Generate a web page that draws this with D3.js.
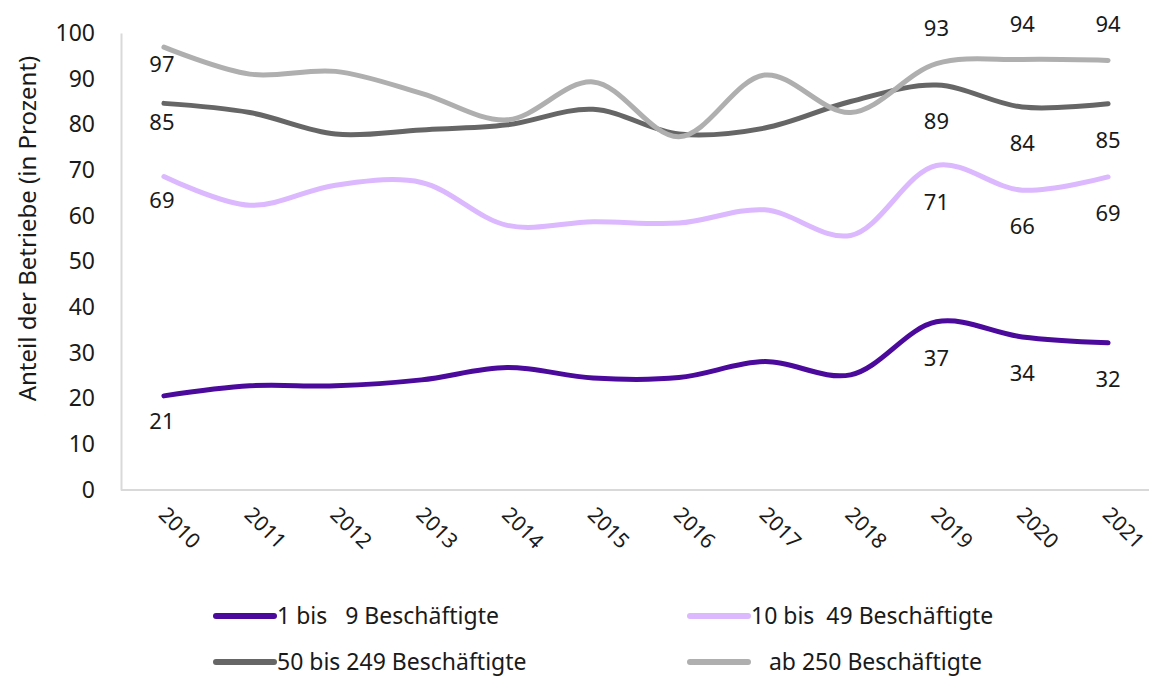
<!DOCTYPE html>
<html>
<head>
<meta charset="utf-8">
<script src="https://cdn.jsdelivr.net/npm/d3@7"></script>
<style>
  body { margin: 0; background: #fff; }
  text { font-family: "Noto Sans", sans-serif; fill: #1a1a1a; }
</style>
</head>
<body>
<div id="wrapper"></div>
<script>
const years = ["2010","2011","2012","2013","2014","2015","2016","2017","2018","2019","2020","2021"];
const small = [20.6, 22.8, 22.8, 24.1, 26.8, 24.5, 24.6, 28.1, 25.2, 36.8, 33.5, 32.2];      // 1 bis 9
const medium = [68.6, 62.3, 66.7, 67.3, 57.9, 58.7, 58.4, 61.3, 55.7, 71.0, 65.6, 68.5];     // 10 bis 49
const large = [84.6, 82.6, 77.9, 78.8, 79.9, 83.3, 77.9, 79.2, 85.0, 88.6, 83.8, 84.5];      // 50 bis 249
const huge = [96.9, 91.0, 91.6, 86.8, 81.0, 89.3, 77.3, 90.8, 82.6, 93.3, 94.2, 94.0];       // ab 250
const yTicks = [0, 10, 20, 30, 40, 50, 60, 70, 80, 90, 100];
const labelYears = ["2010", "2019", "2020", "2021"];

const series = [
  {name: "1 bis   9 Beschäftigte", values: small, color: "#4b0a9c", above: false},
  {name: "10 bis  49 Beschäftigte", values: medium, color: "#dcb8ff", above: false},
  {name: "50 bis 249 Beschäftigte", values: large, color: "#666666", above: false},
  {name: "   ab 250 Beschäftigte", values: huge, color: "#afafaf", above: true}
];

const width = 1153, height = 678;
const margin = {left: 121, right: 2, top: 33, bottom: 188};

const svg = d3.select("#wrapper").append("svg")
  .attr("width", width)
  .attr("height", height);

const x = d3.scalePoint()
  .domain(years)
  .range([margin.left, width - margin.right])
  .padding(0.5);

const y = d3.scaleLinear()
  .domain([0, 100])
  .range([height - margin.bottom, margin.top]);

// axes
const yAxis = d3.axisLeft(y).tickValues(yTicks).tickSize(0).tickPadding(26);
svg.append("g")
  .attr("transform", `translate(${margin.left},0)`)
  .call(yAxis)
  .call(g => g.select(".domain").attr("stroke", "#d9d9d9").attr("stroke-width", 2))
  .call(g => g.selectAll("text").style("font-size", "23px"));

const xAxis = d3.axisBottom(x).tickSize(0).tickPadding(0);
svg.append("g")
  .attr("transform", `translate(0,${height - margin.bottom})`)
  .call(xAxis)
  .call(g => g.select(".domain").attr("stroke", "#d9d9d9").attr("stroke-width", 2)
    .attr("d", `M${margin.left},0H${width - margin.right - 2}`))
  .call(g => g.selectAll("text")
    .style("font-size", "21px")
    .attr("text-anchor", "start")
    .attr("dy", 0)
    .attr("transform", "translate(-7,26) rotate(45)"));

svg.append("text")
  .attr("transform", `translate(36,${(margin.top + height - margin.bottom) / 2 - 33}) rotate(-90)`)
  .attr("text-anchor", "middle")
  .style("font-size", "24px")
  .text("Anteil der Betriebe (in Prozent)");

// lines
const line = d3.line()
  .x((d, i) => x(years[i]))
  .y(d => y(d))
  .curve(d3.curveCatmullRom.alpha(0.5));

series.forEach(s => {
  svg.append("path")
    .attr("d", line(s.values))
    .attr("fill", "none")
    .attr("stroke", s.color)
    .attr("stroke-width", 5)
    .attr("stroke-linecap", "round");
});

// data labels
const firstOffsets = [33, 32, 27, 25];
series.forEach((s, k) => {
  labelYears.forEach(yr => {
    const i = years.indexOf(yr);
    const first = yr === years[0];
    const off = first ? firstOffsets[k] : (s.above ? -28 : 44);
    svg.append("text")
      .attr("x", x(yr) + (first ? -2 : 0))
      .attr("y", y(s.values[i]) + off)
      .attr("text-anchor", "middle")
      .style("font-size", "22px")
      .text(Math.round(s.values[i]));
  });
});

// legend
const legendPos = [[216, 616], [690, 616], [216, 662], [690, 662]];
series.forEach((s, i) => {
  const [lx, ly] = legendPos[i];
  svg.append("line")
    .attr("x1", lx).attr("x2", lx + 58)
    .attr("y1", ly).attr("y2", ly)
    .attr("stroke", s.color)
    .attr("stroke-width", 6)
    .attr("stroke-linecap", "round");
  svg.append("text")
    .attr("x", lx + 61)
    .attr("y", ly + 8)
    .style("font-size", "23px")
    .style("white-space", "pre")
    .text(s.name);
});
</script>
</body>
</html>
